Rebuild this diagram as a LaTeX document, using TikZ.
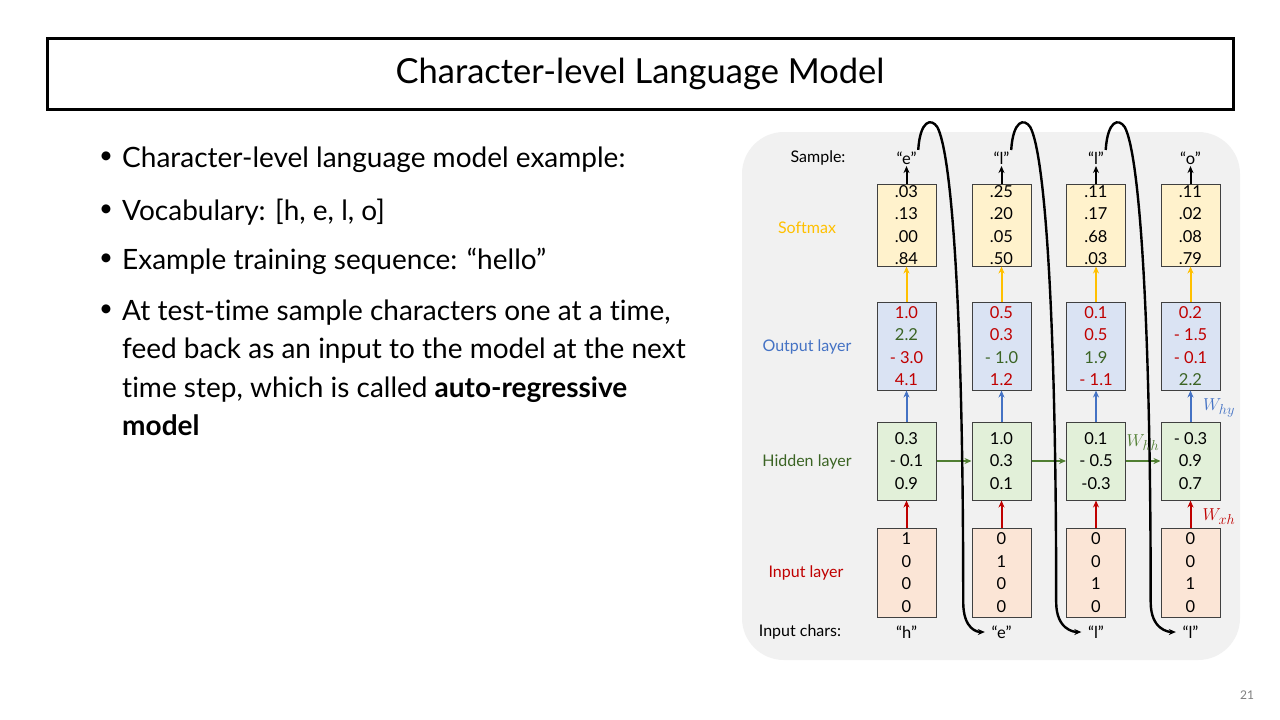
\documentclass[tikz,border=0pt]{standalone}
\usepackage{fontspec}
\setmainfont{Lato}[Ligatures=NoCommon]
\usetikzlibrary{arrows.meta,calc}
\definecolor{bggray}{HTML}{F1F1F1}
\definecolor{boxline}{HTML}{404040}
\definecolor{smfill}{HTML}{FFF2CC}
\definecolor{outfill}{HTML}{DAE3F3}
\definecolor{hidfill}{HTML}{E2F0D9}
\definecolor{infill}{HTML}{FBE5D6}
\definecolor{gold}{HTML}{FFC000}
\definecolor{myblue}{HTML}{4472C4}
\definecolor{mygreen}{HTML}{3B6424}
\definecolor{arrgreen}{HTML}{507E32}
\definecolor{myred}{HTML}{C00000}
\newcommand\valfont{\fontsize{16.5}{22.5}\selectfont}
\newcommand\lblfont{\fontsize{16}{19}\selectfont}
\newcommand\bulfont{\fontsize{28}{32}\selectfont}
\newcommand\wfont{\fontsize{19}{22}\selectfont}
\newcommand\rv[1]{\textcolor{myred}{#1}}
\newcommand\gv[1]{\textcolor{mygreen}{#1}}
\begin{document}
\begin{tikzpicture}[x=1pt,y=-1pt,
  vbox/.style={draw=boxline, line width=1pt, minimum width=59pt, inner sep=0pt, align=center, font=\valfont},
  smbox/.style={vbox, fill=smfill, minimum height=82pt},
  outbox/.style={vbox, fill=outfill, minimum height=88pt},
  hidbox/.style={vbox, fill=hidfill, minimum height=78pt},
  inbox/.style={vbox, fill=infill, minimum height=89pt},
  chartxt/.style={font=\valfont, inner sep=1.5pt},
  rowlbl/.style={font=\lblfont},
  tip/.style={-{Stealth[length=7pt,width=6pt]}},
  yarr/.style={tip, draw=gold, line width=2pt},
  barr/.style={tip, draw=myblue, line width=2pt},
  garr/.style={tip, draw=arrgreen, line width=2pt},
  rarr/.style={tip, draw=myred, line width=2pt},
  karr/.style={tip, draw=black, line width=2pt},
  fb/.style={tip, draw=black, line width=2.4pt},
  bulline/.style={anchor=base west, font=\bulfont, inner sep=0pt},
  bulmark/.style={font=\fontsize{24}{28}\selectfont, inner sep=0pt}
]
\fill[white] (0,0) rectangle (1280,720);
\useasboundingbox (0,0) rectangle (1280,720);

% title
\node[draw=black, line width=3pt, minimum width=1186pt, minimum height=71pt, font=\fontsize{34.5}{40}\selectfont] (title) at (640,73.5) {Character-level Language Model};

% bullets
\node[bulmark] (b1) at (106,158) {•};
\node[bulline] (t1) at (122,167) {Character-level language model example:};
\node[bulmark] (b2) at (106,211) {•};
\node[bulline] (t2) at (122,220) {Vocabulary: [h, e, l, o]};
\node[bulmark] (b3) at (106,260) {•};
\node[bulline] (t3) at (122,269) {Example training sequence: “hello”};
\node[bulmark] (b4) at (106,311) {•};
\node[bulline] (t4a) at (122,320) {At test-time sample characters one at a time,};
\node[bulline] (t4b) at (122,358.5) {feed back as an input to the model at the next};
\node[bulline] (t4c) at (122,397) {time step, which is called \textbf{auto-regressive}};
\node[bulline] (t4d) at (122,435.5) {\textbf{model}};

% panel
\fill[bggray, rounded corners=42pt] (742,132) rectangle (1240,660);

% row labels
\node[rowlbl] (lsample) at (818,158) {Sample:};
\node[rowlbl, text=gold] (lsoft) at (807,228) {Softmax};
\node[rowlbl, text=myblue] (lout) at (807,347) {Output layer};
\node[rowlbl, text=mygreen] (lhid) at (807,462) {Hidden layer};
\node[rowlbl, text=myred] (lin) at (806,573) {Input layer};
\node[rowlbl] (lchars) at (800,632) {Input chars:};

% column 1
\node[smbox] (sm1) at (906.5,225) {.03\\.13\\.00\\.84};
\node[outbox] (out1) at (906.5,346) {\rv{1.0}\\\gv{2.2}\\\rv{- 3.0}\\\rv{4.1}};
\node[hidbox] (hid1) at (906.5,461) {0.3\\- 0.1\\0.9};
\node[inbox] (in1) at (906.5,572.5) {1\\0\\0\\0};
% column 2
\node[smbox] (sm2) at (1001.5,225) {.25\\.20\\.05\\.50};
\node[outbox] (out2) at (1001.5,346) {\rv{0.5}\\\rv{0.3}\\\gv{- 1.0}\\\rv{1.2}};
\node[hidbox] (hid2) at (1001.5,461) {1.0\\0.3\\0.1};
\node[inbox] (in2) at (1001.5,572.5) {0\\1\\0\\0};
% column 3
\node[smbox] (sm3) at (1096,225) {.11\\.17\\.68\\.03};
\node[outbox] (out3) at (1096,346) {\rv{0.1}\\\rv{0.5}\\\gv{1.9}\\\rv{- 1.1}};
\node[hidbox] (hid3) at (1096,461) {0.1\\- 0.5\\-0.3};
\node[inbox] (in3) at (1096,572.5) {0\\0\\1\\0};
% column 4
\node[smbox] (sm4) at (1190.5,225) {.11\\.02\\.08\\.79};
\node[outbox] (out4) at (1190.5,346) {\rv{0.2}\\\rv{- 1.5}\\\rv{- 0.1}\\\gv{2.2}};
\node[hidbox] (hid4) at (1190.5,461) {- 0.3\\0.9\\0.7};
\node[inbox] (in4) at (1190.5,572.5) {0\\0\\1\\0};

% samples and input chars
\node[chartxt] (s1) at (906.5,158) {“e”};
\node[chartxt] (s2) at (1001.5,158) {“l”};
\node[chartxt] (s3) at (1096,158) {“l”};
\node[chartxt] (s4) at (1190.5,158) {“o”};
\node[chartxt] (c1) at (906.5,632) {“h”};
\node[chartxt] (c2) at (1001.5,632) {“e”};
\node[chartxt] (c3) at (1096,632) {“l”};
\node[chartxt] (c4) at (1190.5,632) {“l”};

% vertical arrows
\foreach \i in {1,2,3,4} {
  \draw[rarr] (in\i.north) -- (hid\i.south);
  \draw[barr] (hid\i.north) -- (out\i.south);
  \draw[yarr] (out\i.north) -- (sm\i.south);
  \draw[karr] (sm\i.north) -- (s\i.south);
}
% recurrent arrows
\draw[garr] (hid1.east) -- (hid2.west);
\draw[garr] (hid2.east) -- (hid3.west);
\draw[garr] (hid3.east) -- (hid4.west);

% weight labels
\node[text=myblue, font=\wfont] (why) at (1219,408) {$W_{hy}$};
\node[text=myred, font=\wfont] (wxh) at (1219,517) {$W_{xh}$};
\node[text=arrgreen, font=\wfont] (whh) at (1143,443) {$W_{hh}$};

% feedback curves
\foreach \i/\j in {1/2,2/3,3/4} {
  \draw[fb, shorten >=5pt] (s\i.north east) .. controls +(2,-30) and +(-6,-9) .. ++(19,-23)
     .. controls +(14,25) and +(0,-300) .. ++(26,475)
     .. controls +(0,28) and +(-12,0) .. (c\j.west);
}

% page number
\node[text=gray, font=\fontsize{12}{14}\selectfont] (pnum) at (1247,695) {21};
\end{tikzpicture}
\end{document}
